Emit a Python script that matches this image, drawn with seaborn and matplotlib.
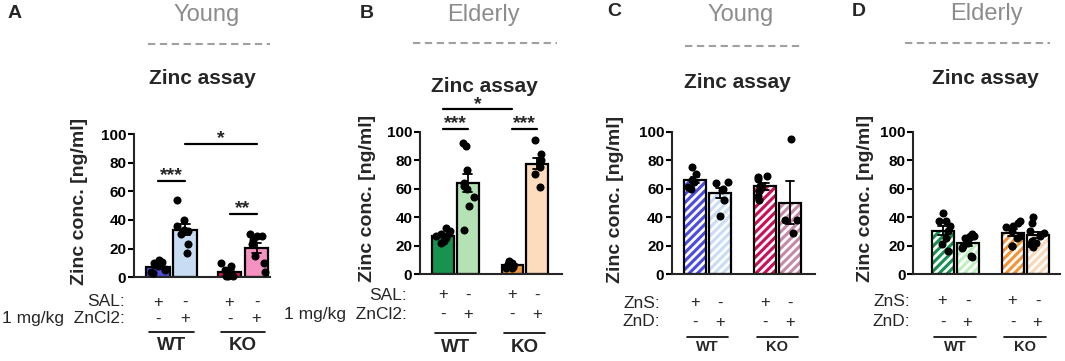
import numpy as np
import pandas as pd
import matplotlib
matplotlib.use("Agg")
import matplotlib.pyplot as plt
import matplotlib.transforms as mtransforms
from matplotlib.patches import Rectangle
from matplotlib.lines import Line2D
import seaborn as sns

sns.set_theme(style="ticks")
plt.rcParams['font.family'] = ['Liberation Sans', 'DejaVu Sans']
plt.rcParams['hatch.linewidth'] = 2.0
plt.rcParams['hatch.color'] = 'white'

# ---------------- data ----------------
group_keys = ["WT_1", "WT_2", "KO_1", "KO_2"]

a_wt_sal = [12, 11, 10, 8, 6, 5, 4, 3]
a_wt_zncl2 = [54, 40, 36, 33, 32, 30, 23, 17]
a_ko_sal = [10, 8, 5, 2, 1, 1, 1]
a_ko_zncl2 = [30, 29, 29, 26, 23, 15, 10, 4]

b_wt_sal = [32, 30, 29, 28, 27, 25, 23, 22]
b_wt_zncl2 = [92, 90, 73, 64, 62, 60, 54, 48, 31]
b_ko_sal = [9, 8, 7, 6, 5, 4, 4]
b_ko_zncl2 = [94, 84, 80, 79, 75, 70, 61]

c_wt_zns = [75, 70, 66, 65, 61, 60]
c_wt_znd = [65, 64, 60, 59, 52, 41]
c_ko_zns = [69, 68, 67, 62, 58, 55, 52]
c_ko_znd = [95, 38, 38, 29]

d_wt_zns = [43, 37, 37, 34, 30, 25, 21, 16]
d_wt_znd = [28, 27, 27, 26, 25, 22, 20, 18, 13, 12]
d_ko_zns = [37, 36, 34, 33, 30, 27, 25, 20, 20]
d_ko_znd = [40, 36, 30, 29, 27, 23, 22, 21, 19]

genotypes = ["WT", "KO"]
row_labels_ab = ["SAL:", "1 mg/kg  ZnCl2:"]
row_labels_cd = ["ZnS:", "ZnD:"]
row1_signs = ["+", "-", "+", "-"]
row2_signs = ["-", "+", "-", "+"]
panel_letters = ["A", "B", "C", "D"]
age_titles = ["Young", "Elderly", "Young", "Elderly"]
assay_title = "Zinc assay"
ylabel_text = "Zinc conc. [ng/ml]"
yticks = [0, 20, 40, 60, 80, 100]

sig_a = [(0, 1, 67.5, "***"), (2, 3, 44, "**"), (1, 3, 93, "*")]
sig_b = [(0, 1, 101.7, "***"), (2, 3, 101.7, "***"), (0, 2, 115.7, "*")]

colors_a = ["#5050dc", "#c8ddf4", "#d0145a", "#f592c2"]
colors_b = ["#17924f", "#b5e2b5", "#f29a3a", "#fcdcbc"]
colors_c = ["#4c4ce0", "#c9ddf5", "#cc1058", "#c58aa8"]
colors_d = ["#169150", "#bff0bf", "#f39436", "#fad7b5"]

# ---------------- layout (pixels) ----------------
W, H = 1065, 361
panels = [
    dict(vals=[a_wt_sal, a_wt_zncl2, a_ko_sal, a_ko_zncl2], colors=colors_a, hatched=False,
         rect=(134, 134, 270, 277.3), pos=[0, 1, 2.65, 3.65], xlim=(-0.89, 4.15),
         sig=sig_a, rows=row_labels_ab, row_y=(302, 319), line_y=332, geno_y=346,
         geno_fs=13.5, row_x=125, letter=(8, 14), title=(207, 15), dash=(148, 270, 44),
         assay=(202, 78), ylab=(80, 201)),
    dict(vals=[b_wt_sal, b_wt_zncl2, b_ko_sal, b_ko_zncl2], colors=colors_b, hatched=False,
         rect=(420, 131.7, 562, 274), pos=[0, 1, 2.8, 3.8], xlim=(-0.93, 4.8),
         sig=sig_b, rows=row_labels_ab, row_y=(295, 314), line_y=333, geno_y=347,
         geno_fs=13.5, row_x=407, letter=(360, 13), title=(483, 15), dash=(413, 557, 43),
         assay=(484, 87), ylab=(368, 198)),
    dict(vals=[c_wt_zns, c_wt_znd, c_ko_zns, c_ko_znd], colors=colors_c, hatched=True,
         rect=(671.7, 131.7, 815, 274), pos=[0, 1, 2.8, 3.8], xlim=(-0.93, 4.8),
         sig=[], rows=row_labels_cd, row_y=(303, 322), line_y=337, geno_y=347,
         geno_fs=10.5, row_x=660, letter=(607, 12), title=(741, 15), dash=(685, 802, 46),
         assay=(737, 83), ylab=(615, 199)),
    dict(vals=[d_wt_zns, d_wt_znd, d_ko_zns, d_ko_znd], colors=colors_d, hatched=True,
         rect=(913.3, 131.7, 1060, 274), pos=[0, 1, 2.8, 3.8], xlim=(-1.17, 4.7),
         sig=[], rows=row_labels_cd, row_y=(301, 322), line_y=337, geno_y=347,
         geno_fs=10.5, row_x=910, letter=(852, 12), title=(986, 14), dash=(905, 1050, 43),
         assay=(985, 78), ylab=(865, 198)),
]

fig = plt.figure(figsize=(W / 100, H / 100), dpi=100)
fig.patch.set_facecolor("white")


def fx(x):
    return x / W


def fy(y):
    return 1 - y / H


np.random.seed(3)

for k, P in enumerate(panels):
    l, t, r, b = P["rect"]
    ax = fig.add_axes([fx(l), fy(b), (r - l) / W, (b - t) / H])
    pos = P["pos"]
    lens = [len(v) for v in P["vals"]]
    df = pd.DataFrame({
        "pos": np.repeat(pos, lens),
        "grp": np.repeat(group_keys, lens),
        "val": np.concatenate(P["vals"]).astype(float),
    })
    pal = dict(zip(group_keys, P["colors"]))
    sns.barplot(data=df, x="pos", y="val", hue="grp", palette=pal, native_scale=True,
                dodge=False, width=0.88, errorbar="se", capsize=0.35, orient="x",
                err_kws={"color": "black", "linewidth": 1.3},
                edgecolor="black", linewidth=1.6, legend=False, ax=ax, saturation=1)
    bars = list(ax.patches)
    if P["hatched"]:
        for p in bars:
            p.set_hatch("////")
            p.set_edgecolor("white")
            p.set_linewidth(0)
            ax.add_patch(Rectangle(p.get_xy(), p.get_width(), p.get_height(),
                                   fill=False, edgecolor="black", linewidth=1.6, zorder=1.5))
    sns.stripplot(data=df, x="pos", y="val", native_scale=True, jitter=0.33, orient="x",
                  color="black", size=5.8, ax=ax, zorder=5, legend=False)
    for c in ax.collections:
        c.set_clip_on(False)

    ax.set_xlim(*P["xlim"])
    ax.set_ylim(0, 100)
    ax.set_yticks(yticks)
    ax.set_yticklabels([str(v) for v in yticks], fontsize=11, fontweight="bold")
    ax.set_xticks([])
    ax.set_xlabel("")
    ax.set_ylabel("")
    sns.despine(ax=ax)
    for s in ["left", "bottom"]:
        ax.spines[s].set_linewidth(1.5)
    ax.tick_params(axis="y", width=1.5, length=4, pad=1.5, colors="black")
    ax.set_facecolor("none")

    # significance bars
    for i, j, yv, lab in P["sig"]:
        ax.plot([pos[i], pos[j]], [yv, yv], color="black", lw=1.6, clip_on=False)
        ax.text((pos[i] + pos[j]) / 2, yv + 0.5, lab, ha="center", va="baseline",
                fontsize=14, fontweight="bold", clip_on=False)

    # treatment rows
    tr = mtransforms.blended_transform_factory(ax.transData, fig.transFigure)
    for (lab, signs, ry) in zip(P["rows"], [row1_signs, row2_signs], P["row_y"]):
        fig.text(fx(P["row_x"]), fy(ry), lab, ha="right", va="center", fontsize=12.5)
        for xp, sg in zip(pos, signs):
            ax.text(xp, fy(ry), sg, transform=tr, ha="center", va="center", fontsize=12)
    for gi, g in enumerate(genotypes):
        x0, x1 = pos[2 * gi], pos[2 * gi + 1]
        ax.add_line(Line2D([x0 - 0.33, x1 + 0.33], [fy(P["line_y"])] * 2, transform=tr,
                           color="black", lw=1.2, clip_on=False))
        ax.text((x0 + x1) / 2, fy(P["geno_y"]), g, transform=tr, ha="center", va="center",
                fontsize=P["geno_fs"], fontweight="bold")

    # headings
    fig.text(fx(P["letter"][0]), fy(P["letter"][1]), panel_letters[k], ha="left", va="center",
             fontsize=14, fontweight="bold")
    fig.text(fx(P["title"][0]), fy(P["title"][1]), age_titles[k], ha="center", va="center",
             fontsize=17, color="#8c8c8c")
    d0, d1, dy = P["dash"]
    fig.add_artist(Line2D([fx(d0), fx(d1)], [fy(dy), fy(dy)], color="#a0a0a0", lw=1.5,
                          linestyle=(0, (3.5, 2.2))))
    fig.text(fx(P["assay"][0]), fy(P["assay"][1]), assay_title, ha="center", va="center",
             fontsize=15, fontweight="bold")
    fig.text(fx(P["ylab"][0]), fy(P["ylab"][1]), ylabel_text, ha="center", va="center",
             rotation=90, fontsize=14, fontweight="bold")

fig.savefig("out.png", dpi=100, facecolor="white")
